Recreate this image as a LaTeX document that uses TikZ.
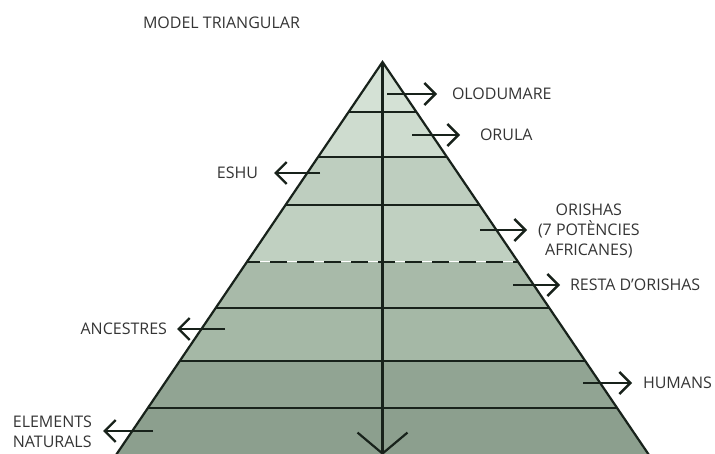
\documentclass[tikz,border=0pt]{standalone}
\usepackage{fontspec}
\setmainfont{Open Sans}
\usetikzlibrary{
arrows.meta,
positioning,
}
\definecolor{band1}{RGB}{212,225,213}
\definecolor{band2}{RGB}{206,220,207}
\definecolor{band3}{RGB}{190,206,191}
\definecolor{band4}{RGB}{192,208,193}
\definecolor{band5}{RGB}{168,186,169}
\definecolor{band6}{RGB}{165,184,166}
\definecolor{band7}{RGB}{145,164,147}
\definecolor{band8}{RGB}{140,159,142}
\definecolor{edge}{RGB}{24,34,27}
\definecolor{ink}{RGB}{52,52,52}
\tikzset{
tag/.style={font=\fontsize{16}{20}\selectfont, text=ink, inner sep=0pt, outer sep=0pt},
rim/.style={draw=edge, line width=2.2pt},
pointer/.style={draw=edge, line width=2.4pt, -{Straight Barb[length=11pt,width=22pt]}},
axis/.style={draw=edge, line width=2.2pt, -{Straight Barb[length=21pt,width=50pt]}},
}
\begin{document}
\begin{tikzpicture}[x=1pt, y=-1pt]
\useasboundingbox (0,0) rectangle (715,454);
\coordinate (top) at (382.5,62);
\coordinate (botl) at (116,455);
\coordinate (botr) at (649,455);
\coordinate (bot) at (382.5,455);
% bands of the pyramid
\begin{scope}
    \clip (top) -- (botl) -- (botr) -- cycle;
    \foreach \ya/\yb/\c in {62/112/band1, 112/157/band2, 157/205/band3, 205/262/band4,
        262/308/band5, 308/361/band6, 361/408/band7, 408/460/band8}
        \fill[\c] (0,\ya) rectangle (715,\yb);
    \foreach \y in {112,157,205,308,361,408}
        \draw[rim] (0,\y) -- (715,\y);
    \draw[white, line width=1pt] (0,262) -- (715,262);
    \draw[rim, dash pattern=on 17pt off 10pt] (0,262) -- (715,262);
\end{scope}
\draw[rim, line join=miter] (botl) -- (top) -- (botr);
\draw[axis] (top) -- (bot);
% labels
\node (title) [tag, anchor=west] at (143,22.5) {MODEL TRIANGULAR};
\node (olo) [tag, anchor=west] at (452,94) {OLODUMARE};
\node (orula) [tag, anchor=west] at (480,135) {ORULA};
\node (eshu) [tag, anchor=east] at (258,173) {ESHU};
\node (orishas) [tag, anchor=west, align=center] at (538,231) {ORISHAS\\(7 POTÈNCIES\\AFRICANES)};
\node (resta) [tag, anchor=west] at (570,285) {RESTA D’ORISHAS};
\node (anc) [tag, anchor=east] at (167,329) {ANCESTRES};
\node (hum) [tag, anchor=west] at (643,383) {HUMANS};
\node (elem) [tag, anchor=east, align=left] at (92,432) {ELEMENTS\\NATURALS};
\coordinate (olo-s) at (387,94);
\coordinate (orula-s) at (412,135);
\coordinate (eshu-s) at (320,173);
\coordinate (orishas-s) at (480,230);
\coordinate (resta-s) at (513,285);
\coordinate (anc-s) at (225,329);
\coordinate (hum-s) at (583,383);
\coordinate (elem-s) at (153,431);
\draw[pointer, shorten >=15pt] (olo-s) -- (olo.west);
\draw[pointer, shorten >=20pt] (orula-s) -- (orula.west);
\draw[pointer, shorten >=16pt] (eshu-s) -- (eshu.east);
\draw[pointer, shorten >=11pt] (orishas-s) -- (orishas.west |- orishas-s);
\draw[pointer, shorten >=10pt] (resta-s) -- (resta.west);
\draw[pointer, shorten >=10pt] (anc-s) -- (anc.east);
\draw[pointer, shorten >=11pt] (hum-s) -- (hum.west);
\draw[pointer, shorten >=11pt] (elem-s) -- (elem.east |- elem-s);
\end{tikzpicture}
\end{document}
